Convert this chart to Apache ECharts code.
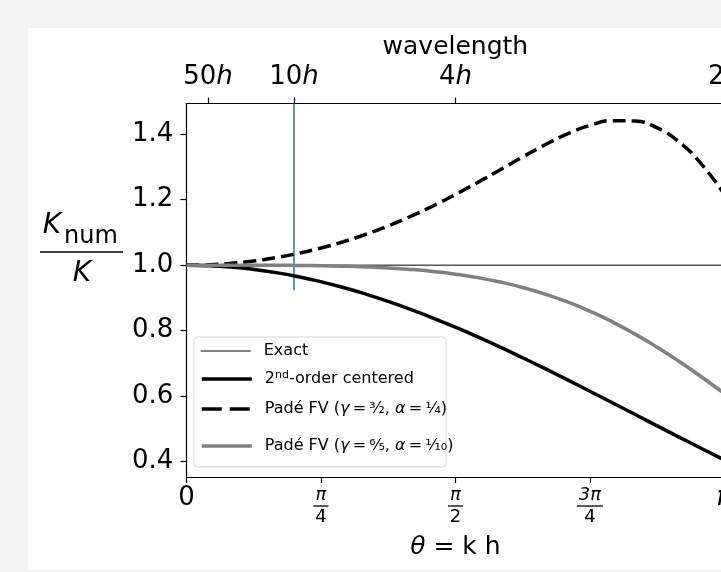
<!DOCTYPE html>
<html>
<head>
<meta charset="utf-8">
<script src="https://cdn.jsdelivr.net/npm/echarts@6/dist/echarts.min.js"></script>
<style>
  html, body { margin: 0; padding: 0; background: #f5f5f5; }
  #chart { width: 721px; height: 572px; }
</style>
</head>
<body>
<div id="chart"></div>
<script>
// theta = k h, sampled every pi/24
const theta = [0, 0.1309, 0.2618, 0.3927, 0.5236, 0.6545, 0.7854, 0.9163, 1.0472, 1.1781,
  1.3090, 1.4399, 1.5708, 1.7017, 1.8326, 1.9635, 2.0944, 2.2253, 2.3562, 2.4871,
  2.6180, 2.7489, 2.8798, 3.0107, 3.1416]

const exactTheta = [0, 3.1416]
const exactValues = [1, 1]

const centeredValues = [1.000, 0.9986, 0.9943, 0.9872, 0.9774, 0.9648, 0.9496, 0.9320, 0.9119, 0.8896,
  0.8651, 0.8387, 0.8106, 0.7808, 0.7497, 0.7173, 0.6839, 0.6497, 0.6150, 0.5798,
  0.5445, 0.5092, 0.4741, 0.4394, 0.4053]

const pade14Values = [1.000, 1.0014, 1.0057, 1.0129, 1.0231, 1.0362, 1.0524, 1.0717, 1.0943, 1.1200,
  1.1490, 1.1810, 1.2159, 1.2530, 1.2916, 1.3305, 1.3678, 1.4011, 1.4270, 1.4416,
  1.4405, 1.4196, 1.3754, 1.3070, 1.2159]

const pade110Values = [1.000, 1.0000, 1.0000, 0.9999, 0.9997, 0.9992, 0.9984, 0.9970, 0.9948, 0.9916,
  0.9871, 0.9809, 0.9727, 0.9621, 0.9485, 0.9321, 0.9119, 0.8878, 0.8595, 0.8270,
  0.7903, 0.7495, 0.7052, 0.6577, 0.6079]

// vertical marker at the 10h wavelength
const markerTheta = [0.6283, 0.6283]
const markerValues = [0.9235, 1.494]

const bottomTicks = [0, 0.7854, 1.5708, 2.3562, 3.14159]
const bottomTickLabels = ['{z|0}', '{n|π}\n{b1|}\n{d|4}', '{n|π}\n{b1|}\n{d|2}', '{n|3π}\n{b2|}\n{d|4}', '{p|π}']
const topTicks = [0.12566, 0.62832, 1.5708, 3.14159]
const topTickLabels = ['50', '10', '4', '2']
const yTicks = [0.4, 0.6, 0.8, 1.0, 1.2, 1.4]

const names = [
  'Exact',
  '2nd-order centered',
  'Padé FV (3/2, 1/4)',
  'Padé FV (6/5, 1/10)'
]
const legendText = [
  'Exact',
  '2{sup|nd}-order centered',
  'Padé FV ({i|γ}\u2009=\u2009³⁄₂, {i|α}\u2009=\u2009¹⁄₄)',
  'Padé FV ({i|γ}\u2009=\u2009⁶⁄₅, {i|α}\u2009=\u2009¹⁄₁₀)'
]
const lineColors = ['#555', '#000', '#000', '#808080']
const lineWidths = [1.5, 3.5, 3.5, 3.5]
const lineTypes = ['solid', 'solid', [13, 6], 'solid']
const legendLineTypes = ['solid', 'solid', [20, 8], 'solid']

const zip = (xs, ys) => xs.map((x, i) => [x, ys[i]])
const font = 'DejaVu Sans'

function nearestIndex(list, v) {
  let best = 0
  list.forEach((t, i) => { if (Math.abs(t - v) < Math.abs(list[best] - v)) best = i })
  return best
}

const chart = echarts.init(document.getElementById('chart'))

const legendTops = [342, 370, 400, 437]
const legends = names.map((n, i) => ({
  data: [n],
  left: 200,
  top: legendTops[i],
  padding: 0,
  itemWidth: 50,
  itemHeight: 14,
  itemGap: 0,
  itemStyle: { opacity: 0 },
  lineStyle: { color: lineColors[i], width: lineWidths[i], type: legendLineTypes[i] },
  selectedMode: false,
  textStyle: {
    fontFamily: font, fontSize: 16, color: '#000', lineHeight: 18, padding: [0, 0, 0, 8],
    rich: {
      sup: { fontFamily: font, fontSize: 11, lineHeight: 10, verticalAlign: 'top', color: '#000' },
      i: { fontFamily: font, fontSize: 16, fontStyle: 'italic', lineHeight: 18, color: '#000' }
    }
  },
  formatter: () => legendText[i]
}))

const textStyle = { fill: '#000', align: 'center', verticalAlign: 'middle', textAlign: 'center', textVerticalAlign: 'middle' }

chart.setOption({
  backgroundColor: '#f5f5f5',
  animation: false,
  graphic: [
    { type: 'rect', z: -10, shape: { x: 28, y: 28, width: 700, height: 541 }, style: { fill: '#fff' } },
    { type: 'rect', z: 1, shape: { x: 194, y: 337, width: 252, height: 130, r: 3 },
      style: { fill: 'rgba(255,255,255,0.8)', stroke: '#d3d3d3', lineWidth: 1 } },
    { type: 'text', x: 52, y: 226, style: Object.assign({ text: 'K', font: 'italic 28px DejaVu Sans' }, textStyle) },
    { type: 'text', x: 91, y: 237, style: Object.assign({ text: 'num', font: '24px DejaVu Sans' }, textStyle) },
    { type: 'line', shape: { x1: 40, y1: 252, x2: 123, y2: 252 }, style: { stroke: '#000', lineWidth: 1.5 } },
    { type: 'text', x: 82, y: 274, style: Object.assign({ text: 'K', font: 'italic 28px DejaVu Sans' }, textStyle) }
  ],
  grid: { left: 186.4, top: 103.5, width: 538, height: 373.5, outerBoundsMode: 'none' },
  legend: legends,
  xAxis: [
    {
      type: 'value', position: 'bottom', min: 0, max: Math.PI,
      name: '{i|θ} = k h', nameLocation: 'middle', nameGap: 58,
      nameTextStyle: { fontFamily: font, fontSize: 25, color: '#000',
        rich: { i: { fontFamily: font, fontSize: 25, fontStyle: 'italic', color: '#000' } } },
      axisLine: { onZero: false, lineStyle: { color: '#000', width: 1.2 } },
      axisTick: { customValues: bottomTicks, length: 6, lineStyle: { color: '#000', width: 1.2 } },
      splitLine: { show: false },
      axisLabel: {
        customValues: bottomTicks, margin: 8,
        formatter: v => bottomTickLabels[nearestIndex(bottomTicks, v)],
        rich: {
          z: { fontFamily: font, fontSize: 26, lineHeight: 26, color: '#000' },
          p: { fontFamily: font, fontSize: 26, lineHeight: 26, fontStyle: 'italic', color: '#000' },
          n: { fontFamily: font, fontSize: 18, lineHeight: 20, fontStyle: 'italic', color: '#000' },
          d: { fontFamily: font, fontSize: 18, lineHeight: 20, color: '#000' },
          b1: { width: 15, height: 1.3, lineHeight: 2, backgroundColor: '#000' },
          b2: { width: 26, height: 1.3, lineHeight: 2, backgroundColor: '#000' }
        }
      }
    },
    {
      type: 'value', position: 'top', min: 0, max: Math.PI,
      name: 'wavelength', nameLocation: 'middle', nameGap: 41,
      nameTextStyle: { fontFamily: font, fontSize: 25, color: '#000' },
      axisLine: { onZero: false, lineStyle: { color: '#000', width: 1.2 } },
      axisTick: { customValues: topTicks, length: 6, lineStyle: { color: '#000', width: 1.2 } },
      splitLine: { show: false },
      axisLabel: {
        customValues: topTicks, margin: 12,
        formatter: v => '{t|' + topTickLabels[nearestIndex(topTicks, v)] + '}{h|h}',
        rich: {
          t: { fontFamily: font, fontSize: 26, lineHeight: 28, color: '#000' },
          h: { fontFamily: font, fontSize: 26, lineHeight: 28, fontStyle: 'italic', color: '#000' }
        }
      }
    }
  ],
  yAxis: {
    type: 'value', min: 0.353, max: 1.494,
    axisLine: { show: true, onZero: false, lineStyle: { color: '#000', width: 1.2 } },
    axisTick: { show: true, customValues: yTicks, length: 6, lineStyle: { color: '#000', width: 1.2 } },
    splitLine: { show: false },
    axisLabel: {
      customValues: yTicks, margin: 13,
      formatter: v => v.toFixed(1),
      fontFamily: font, fontSize: 26, color: '#000'
    }
  },
  series: [
    {
      name: 'marker', type: 'line', data: zip(markerTheta, markerValues),
      symbol: 'none', silent: true, z: 1,
      lineStyle: { color: '#1f77b4', width: 1.5 }
    },
    {
      name: names[0], type: 'line', data: zip(exactTheta, exactValues),
      symbol: 'none', z: 2, color: lineColors[0],
      lineStyle: { color: lineColors[0], width: lineWidths[0] }
    },
    {
      name: names[1], type: 'line', data: zip(theta, centeredValues),
      symbol: 'none', smooth: true, z: 3, color: lineColors[1],
      lineStyle: { color: lineColors[1], width: lineWidths[1] }
    },
    {
      name: names[2], type: 'line', data: zip(theta, pade14Values),
      symbol: 'none', smooth: true, z: 4, color: lineColors[2],
      lineStyle: { color: lineColors[2], width: lineWidths[2], type: lineTypes[2] }
    },
    {
      name: names[3], type: 'line', data: zip(theta, pade110Values),
      symbol: 'none', smooth: true, z: 5, color: lineColors[3],
      lineStyle: { color: lineColors[3], width: lineWidths[3] }
    }
  ]
})
</script>
</body>
</html>
